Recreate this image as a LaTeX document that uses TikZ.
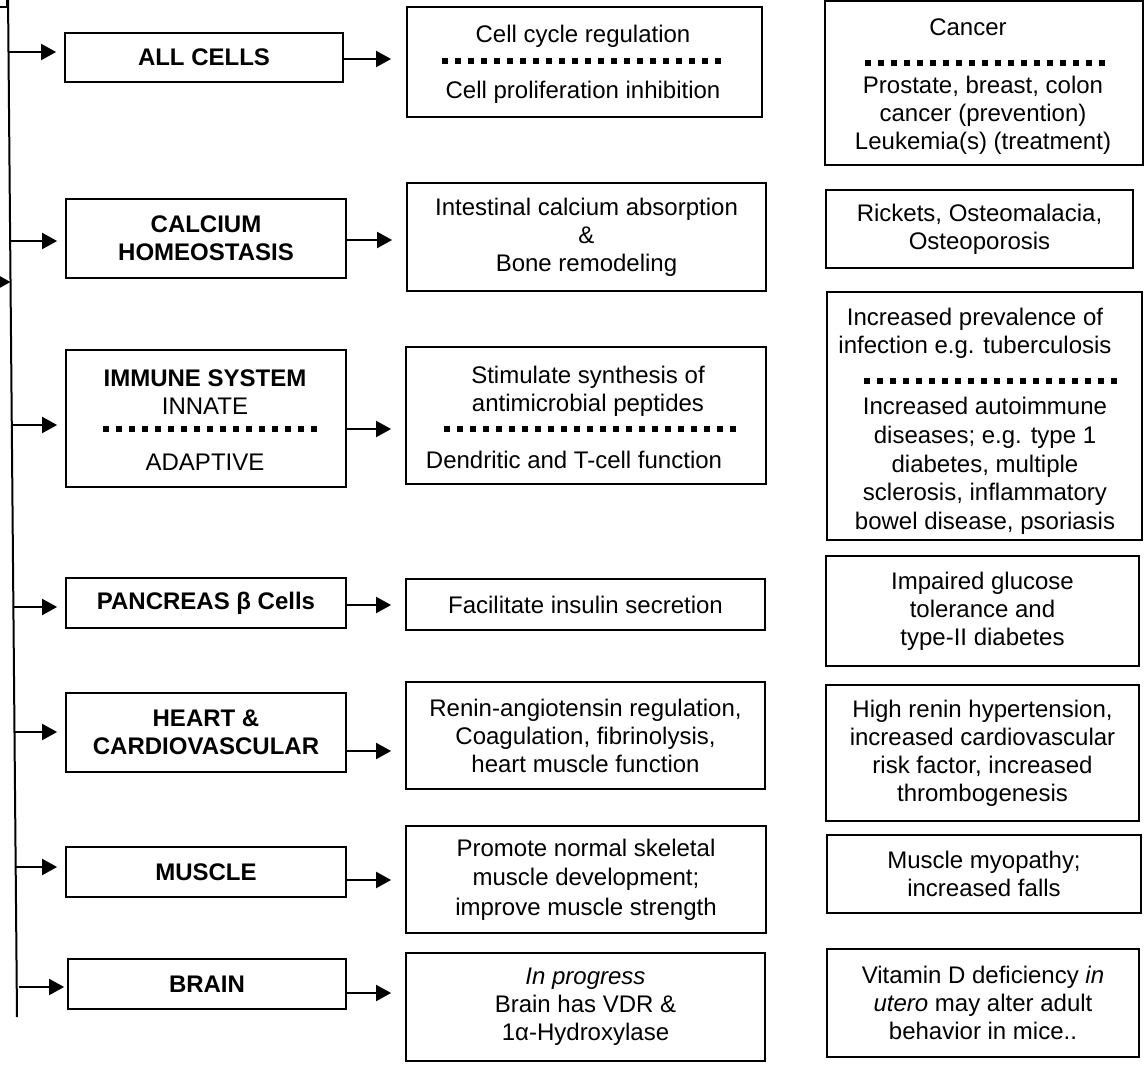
\documentclass[tikz,border=0pt]{standalone}
\usepackage{fontspec}
\setmainfont{Liberation Sans}
\usetikzlibrary{arrows.meta}
\begin{document}
\begin{tikzpicture}[x=1pt,y=-1pt,
  box/.style={draw=black, line width=1.8pt, inner sep=0pt},
  txt/.style={align=center, font=\fontsize{24}{28}\selectfont, inner sep=0pt},
  sepdots/.style={line width=6pt, dash pattern=on 6pt off 7pt},
  arr/.style={line width=2pt, -{Triangle[length=15pt,width=16pt]}},
  vline/.style={line width=2pt}]
\useasboundingbox (0,0) rectangle (1144,1067);

% partial box at top-left corner
\draw[line width=1.8pt] (-20,7) -- (6.5,7) -- (6.5,-20);

% vertical line
\coordinate (vtop) at (8,-5);
\coordinate (vbot) at (17,1017);
\draw[vline] (vtop) -- (vbot);
\coordinate (vin) at (10.5,282);
\coordinate (ext) at (-20,282);
\draw[arr] (ext) -- (vin);

% ---------- left column ----------
\node[box, txt, minimum width=278pt, minimum height=49pt] (allc) at (204,57.5) {\textbf{ALL CELLS}};
\node[box, txt, minimum width=280pt, minimum height=79pt] (calc) at (206,238.5) {\textbf{CALCIUM}\\\textbf{HOMEOSTASIS}};
\node[box, minimum width=280pt, minimum height=137pt] (imm) at (206,418.5) {};
\node[box, txt, minimum width=280pt, minimum height=50pt] (panc) at (206,603) {\textbf{PANCREAS β Cells}};
\node[box, txt, minimum width=280pt, minimum height=79pt] (heart) at (206,732.5) {\textbf{HEART \&}\\\textbf{CARDIOVASCULAR}};
\node[box, txt, minimum width=280pt, minimum height=50pt] (musc) at (206,872) {\textbf{MUSCLE}};
\node[box, txt, minimum width=278pt, minimum height=50pt] (brain) at (207,984) {\textbf{BRAIN}};

\node[txt] (immA) at (205,392) {\textbf{IMMUNE SYSTEM}\\INNATE};
\draw[sepdots] (103,429) -- (320,429);
\node[txt] (immB) at (205,462) {ADAPTIVE};

% ---------- middle column ----------
\node[box, minimum width=355pt, minimum height=110pt] (m1) at (584.5,62) {};
\node[txt] (m1a) at (583,36) {Cell cycle regulation};
\draw[sepdots] (442,61) -- (721,61);
\node[txt] (m1b) at (583,92) {Cell proliferation inhibition};

\node[box, txt, minimum width=359pt, minimum height=108pt] (m2) at (586.5,237) {Intestinal calcium absorption\\\&\\Bone remodeling};

\node[box, minimum width=360pt, minimum height=137pt] (m3) at (586,415.5) {};
\node[txt] (m3a) at (588,391) {Stimulate synthesis of\\antimicrobial peptides};
\draw[sepdots] (444,429) -- (736,429);
\node[txt] (m3b) at (574,460) {Dendritic and T-cell function};

\node[box, txt, minimum width=359pt, minimum height=51pt] (m4) at (585.5,604.5) {Facilitate insulin secretion};
\node[box, txt, minimum width=359pt, minimum height=107pt] (m5) at (585.5,735.5) {Renin-angiotensin regulation,\\Coagulation, fibrinolysis,\\heart muscle function};
\node[box, txt, minimum width=360pt, minimum height=107pt, font=\fontsize{24}{29.5}\selectfont] (m6) at (586,879.5) {Promote normal skeletal\\muscle development;\\improve muscle strength};
\node[box, txt, minimum width=359pt, minimum height=108pt] (m7) at (585.5,1007) {\textit{In progress}\\Brain has VDR \&\\1α-Hydroxylase};

% ---------- right column ----------
\node[box, minimum width=318pt, minimum height=164pt] (r1) at (984,83) {};
\node[txt] (r1a) at (968,27) {Cancer};
\draw[sepdots] (865,63) -- (1105,63);
\node[txt] (r1b) at (983,115) {Prostate, breast, colon\\cancer (prevention)\\Leukemia(s) (treatment)};

\node[box, txt, minimum width=307pt, minimum height=78pt] (r2) at (979.5,229) {Rickets, Osteomalacia,\\Osteoporosis};

\node[box, minimum width=315pt, minimum height=248pt] (r3) at (984.5,416) {};
\node[txt] (r3a) at (975,333) {Increased prevalence of\\infection e.g. tuberculosis};
\draw[sepdots] (864,381) -- (1117,381);
\node[txt, font=\fontsize{24}{28.7}\selectfont] (r3b) at (985,466) {Increased autoimmune\\diseases; e.g. type 1\\diabetes, multiple\\sclerosis, inflammatory\\bowel disease, psoriasis};

\node[box, txt, minimum width=313pt, minimum height=110pt] (r4) at (982.5,611) {Impaired glucose\\tolerance and\\type-II diabetes};
\node[box, txt, minimum width=313pt, minimum height=136pt] (r5) at (982.5,753) {High renin hypertension,\\increased cardiovascular\\risk factor, increased\\thrombogenesis};
\node[box, txt, minimum width=314pt, minimum height=78pt] (r6) at (984,874) {Muscle myopathy;\\increased falls};
\node[box, txt, minimum width=312pt, minimum height=108pt] (r7) at (983,1003) {Vitamin D deficiency \textit{in}\\\textit{utero} may alter adult\\behavior in mice..};

% ---------- arrows from vertical line ----------
\coordinate (v1) at (8.5,52);
\coordinate (v2) at (10.1,241);
\coordinate (v3) at (11.8,425);
\coordinate (v4) at (13.4,607);
\coordinate (v5) at (14.5,732);
\coordinate (v6) at (15.7,867);
\coordinate (v7) at (18.5,987);
\draw[arr, shorten >=8pt] (v1) -- (allc.west |- v1);
\draw[arr, shorten >=8pt] (v2) -- (calc.west |- v2);
\draw[arr, shorten >=8pt] (v3) -- (imm.west |- v3);
\draw[arr, shorten >=8pt] (v4) -- (panc.west |- v4);
\draw[arr, shorten >=8pt] (v5) -- (heart.west |- v5);
\draw[arr, shorten >=8pt] (v6) -- (musc.west |- v6);
\draw[arr, shorten >=3pt] (v7) -- (brain.west |- v7);

% ---------- arrows left -> middle ----------
\coordinate (h1) at (0,59);
\coordinate (h2) at (0,240);
\coordinate (h3) at (0,429);
\coordinate (h4) at (0,605);
\coordinate (h5) at (0,751);
\coordinate (h6) at (0,880);
\coordinate (h7) at (0,993);
\draw[arr, shorten >=15pt] (allc.east |- h1) -- (m1.west |- h1);
\draw[arr, shorten >=14pt] (calc.east |- h2) -- (m2.west |- h2);
\draw[arr, shorten >=14pt] (imm.east |- h3) -- (m3.west |- h3);
\draw[arr, shorten >=14pt] (panc.east |- h4) -- (m4.west |- h4);
\draw[arr, shorten >=14pt] (heart.east |- h5) -- (m5.west |- h5);
\draw[arr, shorten >=14pt] (musc.east |- h6) -- (m6.west |- h6);
\draw[arr, shorten >=14pt] (brain.east |- h7) -- (m7.west |- h7);
\end{tikzpicture}
\end{document}
